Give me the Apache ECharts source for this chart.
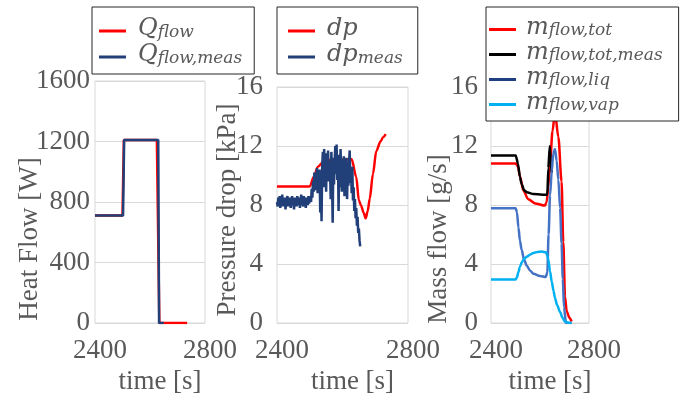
<!DOCTYPE html>
<html>
<head>
<meta charset="utf-8">
<script src="https://cdn.jsdelivr.net/npm/echarts@6/dist/echarts.min.js"></script>
<style>
  html, body { margin: 0; padding: 0; background: #ffffff; }
  #chart { width: 680px; height: 400px; }
</style>
</head>
<body>
<div id="chart"></div>
<script>
// ---- time axis shared by all panels ----
const timeMin = 2400;
const timeMax = 2800;
const timeStep = 400;

// ---- heat flow [W] ----
const heatTicks = [0, 400, 800, 1200, 1600];
const qFlowTime  = [2400, 2500, 2505, 2625, 2634, 2735];
const qFlowValue = [710, 710, 1210, 1210, 0, 0];
const qMeasTime  = [2400, 2502, 2506, 2630, 2633, 2650];
const qMeasValue = [710, 710, 1210, 1210, 0, 0];

// ---- pressure drop [kPa] ----
const dpTicks = [0, 4, 8, 12, 16];
const dpTime  = [2400, 2500, 2512, 2525, 2540, 2560, 2628, 2642, 2650, 2657, 2664, 2671, 2677, 2683, 2693, 2703, 2716, 2724, 2732];
const dpValue = [9.25, 9.25, 9.9, 10.6, 10.9, 11.05, 11.1, 9.9, 8.3, 7.95, 7.5, 7.1, 7.6, 8.4, 10.1, 11.65, 12.3, 12.6, 12.8];
// logged every 2 s starting at 2400 s
const dpMeasStart = 2400;
const dpMeasStep = 2;
const dpMeasValue = [
  8.2, 7.9, 8.5, 8.0, 8.6, 7.8, 8.3, 8.1, 8.7, 7.9,
  8.4, 8.0, 8.5, 7.7, 8.3, 8.2, 8.6, 7.9, 8.4, 8.1,
  8.5, 7.8, 8.2, 8.6, 8.0, 8.3, 7.7, 8.5, 8.1, 8.4,
  7.9, 8.6, 8.2, 8.0, 8.5, 7.8, 8.3, 8.7, 8.0, 8.2,
  7.9, 8.6, 8.1, 8.4, 7.8, 8.5, 8.2, 8.0, 8.6, 8.1,
  8.4,
  8.6, 8.2, 9.1, 8.5, 9.6, 8.9, 10.2, 9.0, 10.0, 9.3, 10.5, 8.8, 10.1, 9.4, 10.4,
  7.5, 9.8, 6.9, 10.6, 11.6,
  9.2, 11.8, 10.0, 11.3, 8.9, 11.5, 10.2, 11.7, 9.6, 11.0,
  10.4, 8.4, 11.6, 9.8, 6.8, 11.2, 9.4, 10.9, 12.0, 10.1,
  12.1, 9.7, 11.4, 7.6, 11.0, 9.2, 11.8, 10.3, 8.9, 11.1,
  9.6, 11.3, 8.6, 10.8, 9.9, 11.2, 8.4, 10.6, 9.3, 10.9,
  11.7, 9.5, 10.4, 8.8, 10.6,
  8.3, 9.2, 7.6, 8.4, 7.1, 7.8, 6.6, 7.2, 6.1, 6.4, 5.6, 5.2
];

// ---- mass flow [g/s] ----
const mTicks = [0, 4, 8, 12, 16];
const mTotTime  = [2400, 2501, 2510, 2518, 2532, 2552, 2580, 2620, 2627, 2634, 2641, 2651, 2661, 2675, 2688, 2695, 2702, 2709, 2720, 2729];
const mTotValue = [10.82, 10.82, 10.6, 9.95, 8.98, 8.39, 8.11, 7.96, 8.2, 9.2, 10.8, 13.0, 14.3, 12.6, 9.6, 5.5, 1.8, 0.8, 0.35, 0.1];
const mMeasTime  = [2400, 2501, 2510, 2518, 2525, 2535, 2546, 2573, 2630, 2634, 2640, 2644, 2648];
const mMeasValue = [11.36, 11.36, 10.8, 9.9, 9.43, 9.0, 8.87, 8.74, 8.7, 10.5, 12.0, 10.8, 10.2];
const mLiqTime  = [2400, 2501, 2506, 2512, 2518, 2525, 2535, 2546, 2560, 2573, 2600, 2624, 2630, 2635, 2641, 2648, 2654, 2661, 2668, 2675, 2682, 2688, 2693, 2698, 2706, 2729];
const mLiqValue = [7.78, 7.78, 7.5, 6.48, 5.6, 4.96, 4.3, 3.88, 3.55, 3.34, 3.19, 3.12, 3.45, 6.0, 8.65, 10.3, 11.47, 11.8, 11.0, 9.7, 7.8, 5.4, 3.0, 1.06, 0, 0];
const mVapTime  = [2400, 2501, 2506, 2512, 2518, 2525, 2535, 2546, 2560, 2573, 2590, 2607, 2624, 2629, 2634, 2641, 2648, 2655, 2661, 2670, 2682, 2692, 2702, 2715, 2729];
const mVapValue = [2.95, 2.95, 3.1, 3.45, 3.8, 4.1, 4.35, 4.49, 4.65, 4.75, 4.82, 4.84, 4.8, 4.6, 4.31, 3.5, 2.8, 2.2, 1.71, 1.2, 0.74, 0.35, 0.09, 0.02, 0];

const pairs = (t, v) => t.map((x, i) => [x, v[i]]);
const dpMeasPairs = dpMeasValue.map((v, i) => [dpMeasStart + i * dpMeasStep, v]);

const grey = '#595959';
const serif = '"Liberation Serif", "Times New Roman", serif';
const mathFont = '"DejaVu Serif", serif';
const gridLine = '#d9d9d9';

// legend labels with subscripts
const legendText = {
  'Q_flow': '{b|Q}{s|flow}',
  'Q_flow,meas': '{b|Q}{s|flow,meas}',
  'dp': '{b|dp}',
  'dp_meas': '{b|dp}{s|meas}',
  'm_flow,tot': '{b|m}{s|flow,tot}',
  'm_flow,tot,meas': '{b|m}{s|flow,tot,meas}',
  'm_flow,liq': '{b|m}{s|flow,liq}',
  'm_flow,vap': '{b|m}{s|flow,vap}'
};

// rich styles: large italic symbol raised a little, smaller subscript lowered
function legendRich(rowH, lead) {
  return {
    b: { fontFamily: mathFont, fontStyle: 'italic', fontSize: 24, color: grey,
         lineHeight: rowH, height: 20, verticalAlign: 'top', padding: [0, 0, 0, lead] },
    s: { fontFamily: mathFont, fontStyle: 'italic', fontSize: 17, color: grey,
         lineHeight: rowH, height: 17, padding: [3, 0, 0, 0] }
  };
}

function makeLegend(names, left, padding, rowH, lead, iconColors) {
  return {
    data: names.map((n, i) => iconColors && iconColors[i]
      ? { name: n, itemStyle: { color: iconColors[i] } } : { name: n }),
    orient: 'vertical',
    left: left,
    top: 7,
    icon: 'rect',
    itemWidth: 27,
    itemHeight: 3,
    itemGap: 0,
    padding: padding,
    borderColor: '#262626',
    borderWidth: 1,
    borderRadius: 0,
    backgroundColor: '#ffffff',
    selectedMode: false,
    itemStyle: { borderWidth: 0 },
    formatter: n => legendText[n],
    textStyle: { fontFamily: mathFont, fontStyle: 'italic', color: grey, lineHeight: rowH, rich: legendRich(rowH, lead) }
  };
}

const plain = v => String(v);

function timeAxis(gridIndex) {
  return {
    gridIndex: gridIndex,
    type: 'value',
    min: timeMin,
    max: timeMax,
    interval: timeStep,
    axisLine: { show: false },
    axisTick: { show: false },
    splitLine: { show: false },
    axisLabel: { fontFamily: serif, fontSize: 27, color: grey, margin: 14, padding: [0, 0, 0, 10], formatter: plain },
    name: 'time [s]',
    nameLocation: 'middle',
    nameGap: 45,
    nameMoveOverlap: false,
    nameTextStyle: { fontFamily: serif, fontSize: 27, color: grey, padding: [0, 0, 0, 20] }
  };
}

function valueAxis(gridIndex, ticks, name, labelMargin, nameGap, shiftDown) {
  return {
    gridIndex: gridIndex,
    type: 'value',
    min: ticks[0],
    max: ticks[ticks.length - 1],
    interval: ticks[1] - ticks[0],
    axisLine: { show: false },
    axisTick: { show: false },
    splitLine: { lineStyle: { color: gridLine, width: 1 } },
    axisLabel: { fontFamily: serif, fontSize: 27, color: grey, margin: labelMargin, formatter: plain },
    name: name,
    nameLocation: 'middle',
    nameGap: nameGap,
    nameMoveOverlap: false,
    nameTextStyle: { fontFamily: serif, fontSize: 27, color: grey, padding: [0, shiftDown * 2, 0, 0] }
  };
}

function line(name, xi, data, color, width, smooth) {
  return {
    name: name,
    type: 'line',
    xAxisIndex: xi,
    yAxisIndex: xi,
    data: data,
    showSymbol: false,
    symbol: 'none',
    smooth: smooth || false,
    smoothMonotone: 'x',
    lineStyle: { color: color, width: width },
    itemStyle: { color: color },
    animation: false
  };
}

const gridBox = { show: true, borderColor: gridLine, borderWidth: 1, backgroundColor: 'transparent' };

const option = {
  backgroundColor: '#ffffff',
  animation: false,
  textStyle: { fontFamily: serif, color: grey },
  grid: [
    Object.assign({ left: 95, top: 81, width: 110, height: 252 }, gridBox),
    Object.assign({ left: 277, top: 87, width: 131, height: 246 }, gridBox),
    Object.assign({ left: 491, top: 87, width: 98, height: 246 }, gridBox)
  ],
  xAxis: [timeAxis(0), timeAxis(1), timeAxis(2)],
  yAxis: [
    valueAxis(0, heatTicks, 'Heat Flow [W]', 5, 52, 37),
    valueAxis(1, dpTicks, 'Pressure drop [kPa]', 14, 36, 5),
    valueAxis(2, mTicks, 'Mass flow [g/s]', 13, 39, 34)
  ],
  legend: [
    makeLegend(['Q_flow', 'Q_flow,meas'], 92, [10, 12, 5, 7], 24, 7),
    makeLegend(['dp', 'dp_meas'], 277, [10, 15, 5, 11], 24, 7),
    makeLegend(['m_flow,tot', 'm_flow,tot,meas', 'm_flow,liq', 'm_flow,vap'], 486, [9, 16, 5, 3], 23, 5,
               [null, null, '#1f3f80', null])
  ],
  series: [
    line('Q_flow', 0, pairs(qFlowTime, qFlowValue), '#ff0000', 2.5),
    line('Q_flow,meas', 0, pairs(qMeasTime, qMeasValue), '#213f78', 2.5),
    line('dp', 1, pairs(dpTime, dpValue), '#ff0000', 2.5, 0.3),
    line('dp_meas', 1, dpMeasPairs, '#213f78', 2.5),
    line('m_flow,tot', 2, pairs(mTotTime, mTotValue), '#ff0000', 2.5, 0.3),
    line('m_flow,tot,meas', 2, pairs(mMeasTime, mMeasValue), '#000000', 2.5, 0.2),
    line('m_flow,liq', 2, pairs(mLiqTime, mLiqValue), '#4472c4', 2.5, 0.3),
    line('m_flow,vap', 2, pairs(mVapTime, mVapValue), '#00b0f0', 2.5, 0.3)
  ]
};

const chart = echarts.init(document.getElementById('chart'), null, { renderer: 'canvas' });
chart.setOption(option);
</script>
</body>
</html>
